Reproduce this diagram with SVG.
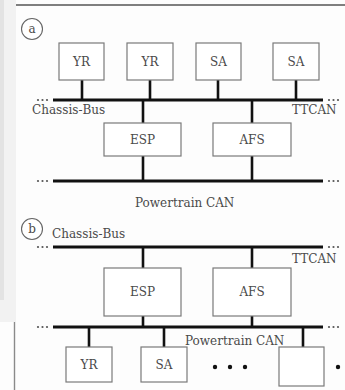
<svg xmlns="http://www.w3.org/2000/svg" width="345" height="390" viewBox="0 0 345 390">
  <style>
    .box { fill: #ffffff; stroke: #7a7a7a; stroke-width: 1.2; }
    .lbl { font-family: "DejaVu Serif", "Liberation Serif", serif; font-size: 12px; fill: #4a4a4a; text-anchor: middle; }
    .bus-lbl { font-family: "DejaVu Serif", "Liberation Serif", serif; font-size: 12px; fill: #4a4a4a; }
    .bus { stroke: #111; stroke-width: 3.2; fill: none; }
    .stub { stroke: #111; stroke-width: 2.6; fill: none; }
    .dot { fill: #555; }
    .ring { fill: #fff; stroke: #666; stroke-width: 1.1; }
  </style>
  <defs>
    <g id="dots3">
      <circle class="dot" cx="0" cy="0" r="1.1"/>
      <circle class="dot" cx="4.5" cy="0" r="1.1"/>
      <circle class="dot" cx="9" cy="0" r="1.1"/>
    </g>
    <clipPath id="cut">
      <rect x="0" y="0" width="345" height="207.5"/>
    </clipPath>
  </defs>

  <!-- page background and margin -->
  <rect x="0" y="0" width="345" height="390" fill="#fdfdfd"/>
  <rect x="0" y="0" width="16" height="322" fill="#f2f2f2"/>
  <rect x="0" y="0" width="4" height="300" fill="#e3e3e3"/>
  <line x1="14.5" y1="322" x2="14.5" y2="390" stroke="#8a8a8a" stroke-width="1.4"/>
  <line x1="16" y1="5" x2="345" y2="5" stroke="#555" stroke-width="1.4"/>

  <!-- connectors: buses and drop lines -->
  <g id="connectors">
    <!-- (a) chassis bus / TTCAN -->
    <line class="bus" x1="53" y1="100" x2="323" y2="100"/>
    <use href="#dots3" x="38" y="100"/>
    <use href="#dots3" x="329" y="100"/>
    <line class="stub" x1="82" y1="80" x2="82" y2="100"/>
    <line class="stub" x1="150" y1="80" x2="150" y2="100"/>
    <line class="stub" x1="218" y1="80" x2="218" y2="100"/>
    <line class="stub" x1="296" y1="80" x2="296" y2="100"/>
    <line class="stub" x1="143" y1="100" x2="143" y2="123"/>
    <line class="stub" x1="252" y1="100" x2="252" y2="123"/>
    <!-- (a) powertrain CAN -->
    <line class="bus" x1="53" y1="181" x2="323" y2="181"/>
    <use href="#dots3" x="38" y="181"/>
    <use href="#dots3" x="329" y="181"/>
    <line class="stub" x1="143" y1="156" x2="143" y2="181"/>
    <line class="stub" x1="252" y1="156" x2="252" y2="181"/>
    <!-- (b) chassis bus / TTCAN -->
    <line class="bus" x1="53" y1="247" x2="323" y2="247"/>
    <use href="#dots3" x="38" y="247"/>
    <use href="#dots3" x="329" y="247"/>
    <line class="stub" x1="143" y1="247" x2="143" y2="268"/>
    <line class="stub" x1="252" y1="247" x2="252" y2="268"/>
    <!-- (b) powertrain CAN -->
    <line class="bus" x1="53" y1="327" x2="323" y2="327"/>
    <use href="#dots3" x="38" y="327"/>
    <use href="#dots3" x="329" y="327"/>
    <line class="stub" x1="143" y1="316" x2="143" y2="327"/>
    <line class="stub" x1="252" y1="316" x2="252" y2="327"/>
    <line class="stub" x1="89" y1="327" x2="89" y2="347"/>
    <line class="stub" x1="164" y1="327" x2="164" y2="347"/>
    <line class="stub" x1="303" y1="327" x2="303" y2="347"/>
  </g>

  <!-- bus names -->
  <g id="bus-labels">
    <text class="bus-lbl" x="32" y="113.5">Chassis-Bus</text>
    <text class="bus-lbl" x="292" y="113.5">TTCAN</text>
    <text class="bus-lbl" x="135" y="207" clip-path="url(#cut)">Powertrain CAN</text>
    <text class="bus-lbl" x="52" y="238">Chassis-Bus</text>
    <text class="bus-lbl" x="292" y="263">TTCAN</text>
    <text class="bus-lbl" x="185" y="345">Powertrain CAN</text>
  </g>

  <!-- panel markers -->
  <g id="tag-a">
    <circle class="ring" cx="32" cy="29" r="10.5"/>
    <text class="lbl" x="32" y="33">a</text>
  </g>
  <g id="tag-b">
    <circle class="ring" cx="32" cy="229" r="10.5"/>
    <text class="lbl" x="32" y="233">b</text>
  </g>

  <!-- (a) nodes -->
  <g id="a-yr1"><rect class="box" x="59" y="43" width="45" height="37"/><text class="lbl" x="81.5" y="66">YR</text></g>
  <g id="a-yr2"><rect class="box" x="127" y="43" width="46" height="37"/><text class="lbl" x="150" y="66">YR</text></g>
  <g id="a-sa1"><rect class="box" x="196" y="43" width="45" height="37"/><text class="lbl" x="218.5" y="66">SA</text></g>
  <g id="a-sa2"><rect class="box" x="273" y="43" width="46" height="37"/><text class="lbl" x="296" y="66">SA</text></g>
  <g id="a-esp"><rect class="box" x="104" y="123" width="77" height="33"/><text class="lbl" x="142.5" y="144">ESP</text></g>
  <g id="a-afs"><rect class="box" x="213" y="123" width="78" height="33"/><text class="lbl" x="252" y="144">AFS</text></g>

  <!-- (b) nodes -->
  <g id="b-esp"><rect class="box" x="104" y="268" width="77" height="48"/><text class="lbl" x="142.5" y="296">ESP</text></g>
  <g id="b-afs"><rect class="box" x="213" y="268" width="78" height="48"/><text class="lbl" x="252" y="296">AFS</text></g>
  <g id="b-yr"><rect class="box" x="66" y="347" width="46" height="35"/><text class="lbl" x="89" y="369">YR</text></g>
  <g id="b-sa"><rect class="box" x="141" y="347" width="46" height="35"/><text class="lbl" x="164" y="369">SA</text></g>
  <g id="b-more"><rect class="box" x="279" y="347" width="45" height="39"/></g>
  <g id="b-ellipsis">
    <circle cx="215" cy="367" r="2.2" fill="#111"/>
    <circle cx="230" cy="367" r="2.2" fill="#111"/>
    <circle cx="245" cy="367" r="2.2" fill="#111"/>
    <circle cx="338" cy="367" r="2.2" fill="#111"/>
  </g>
</svg>
